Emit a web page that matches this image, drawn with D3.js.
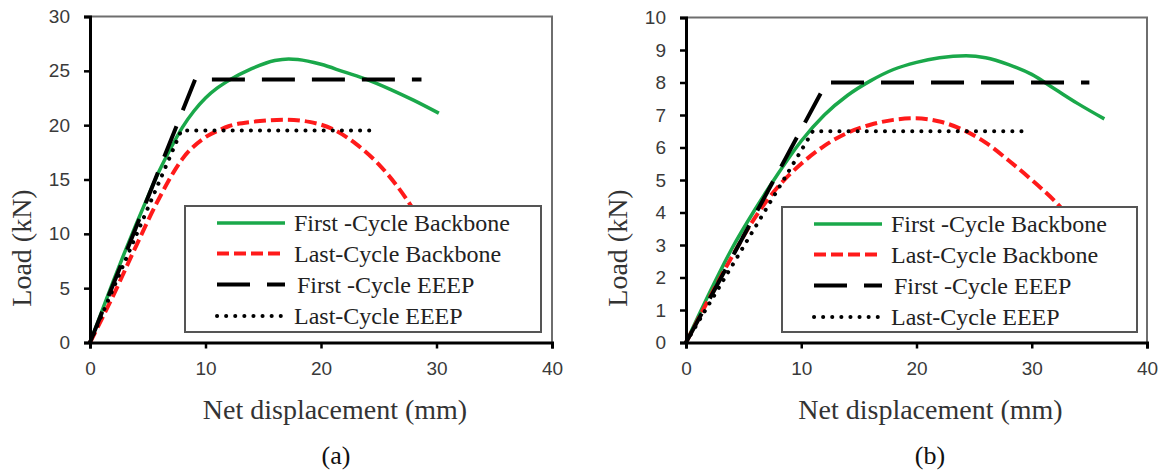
<!DOCTYPE html>
<html>
<head>
<meta charset="utf-8">
<script src="https://cdn.jsdelivr.net/npm/d3@7"></script>
<style>
  body { margin: 0; background: #fff; }
</style>
</head>
<body>
<div id="container"></div>
<script>
let w = 1159;
let h = 471;

// tick labels
let xTicks = [0, 10, 20, 30, 40];
let yTicksA = [0, 5, 10, 15, 20, 25, 30];
let yTicksB = [0, 1, 2, 3, 4, 5, 6, 7, 8, 9, 10];

let legendLabels = ["First -Cycle Backbone", "Last-Cycle Backbone", "First -Cycle EEEP", "Last-Cycle EEEP"];

// panel (a) [displacement mm, load kN]
let firstBackboneA = [[0, 0], [1, 2.8], [2, 5.6], [3, 8.3], [4, 10.9], [5, 13.4], [6, 15.8], [7, 17.9], [8, 19.8],
  [9, 21.3], [10, 22.5], [11, 23.4], [12, 24.1], [14, 25.2], [16, 25.95], [17.2, 26.1], [18, 26.05], [20, 25.6],
  [22, 24.9], [24, 24.2], [26, 23.3], [28, 22.3], [30.2, 21.1]];
let lastBackboneA = [[0, 0], [2, 4.3], [4, 8.9], [6, 13.3], [8, 16.9], [10, 18.9], [11.3, 19.6], [12, 19.9],
  [14, 20.3], [17, 20.5], [19, 20.3], [21.1, 19.6], [23, 18.3], [25, 16.4], [27.4, 13.2], [29, 10.5], [30, 8.7]];
let firstEEEPA = [[0, 0], [9.1, 24.2], [28.7, 24.2]];
let lastEEEPA = [[0, 0], [7.9, 19.5], [24.9, 19.5]];

// panel (b)
let firstBackboneB = [[0, 0], [2, 1.5], [4, 2.9], [6, 4.1], [8, 5.2], [10, 6.2], [12, 7.0], [14, 7.6], [16, 8.05],
  [18, 8.4], [20, 8.62], [22, 8.76], [24.3, 8.82], [26, 8.76], [28, 8.55], [30, 8.25], [32, 7.8], [34, 7.35], [36.3, 6.88]];
let lastBackboneB = [[0, 0], [2, 1.35], [4, 2.65], [6, 3.85], [8, 4.8], [10, 5.5], [12, 6.05], [14, 6.45], [16, 6.7],
  [18, 6.85], [19.9, 6.9], [22, 6.8], [24, 6.55], [26, 6.15], [28, 5.6], [30, 5.0], [32, 4.35], [34, 3.55], [36, 2.7]];
let firstEEEPB = [[0, 0], [12.2, 8.0], [35.0, 8.0]];
let lastEEEPB = [[0, 0], [11.0, 6.5], [29.6, 6.5]];

let viz = d3.select("#container")
  .append("svg")
  .attr("width", w)
  .attr("height", h);

let styles = [
  { color: "#1aa84a", width: 3.5, dash: null },
  { color: "#ff1a1a", width: 4, dash: "12,5" },
  { color: "#000", width: 4, dash: "33,17" },
  { color: "#000", width: 4, dash: "0.1,9", cap: "round" }
];

function drawPanel(cfg) {
  let g = viz.append("g");
  let xScale = d3.scaleLinear().domain([0, 40]).range([cfg.x0, cfg.x1]);
  let yScale = d3.scaleLinear().domain([0, cfg.yMax]).range([cfg.y0, cfg.y1]);

  // frame (top and right)
  g.append("path")
    .attr("d", "M" + cfg.x0 + "," + cfg.y1 + "H" + cfg.x1 + "V" + cfg.y0)
    .attr("fill", "none")
    .attr("stroke", "#6e6e6e")
    .attr("stroke-width", 2);

  // series
  let line = d3.line().x(d => xScale(d[0])).y(d => yScale(d[1]));
  cfg.series.forEach((s, i) => {
    let st = styles[i];
    g.append("path")
      .datum(s)
      .attr("d", line.curve(i < 2 ? d3.curveMonotoneX : d3.curveLinear))
      .attr("fill", "none")
      .attr("stroke", st.color)
      .attr("stroke-width", st.width)
      .attr("stroke-dasharray", st.dash)
      .attr("stroke-linecap", st.cap || "butt");
  });

  // axes
  let xAxis = d3.axisBottom(xScale).tickValues(xTicks).tickSize(6).tickPadding(13);
  let xAxisGroup = g.append("g").attr("transform", "translate(0," + cfg.y0 + ")").call(xAxis);
  let yAxis = d3.axisLeft(yScale).tickValues(cfg.yTicks).tickSize(6).tickPadding(14);
  let yAxisGroup = g.append("g").attr("transform", "translate(" + cfg.x0 + ",0)").call(yAxis);

  [xAxisGroup, yAxisGroup].forEach(a => {
    a.select(".domain").attr("stroke", "#000").attr("stroke-width", 3);
    a.selectAll(".tick line").attr("stroke", "#000").attr("stroke-width", 2.5);
    a.selectAll(".tick text")
      .attr("fill", "#3a3a3a")
      .attr("font-family", "'Liberation Sans', Arial, sans-serif")
      .attr("font-size", 19);
  });

  // legend
  let lg = g.append("g").attr("transform", "translate(" + cfg.legX + "," + cfg.legY + ")");
  lg.append("rect")
    .attr("width", cfg.legW).attr("height", cfg.legH)
    .attr("fill", "#fff").attr("stroke", "#555").attr("stroke-width", 2);
  let rows = [17, 47.5, 78.5, 110];
  legendLabels.forEach((lab, i) => {
    let st = styles[i];
    lg.append("line")
      .attr("x1", 32).attr("x2", 100)
      .attr("y1", rows[i]).attr("y2", rows[i])
      .attr("stroke", st.color)
      .attr("stroke-width", st.width)
      .attr("stroke-dasharray", st.dash)
      .attr("stroke-linecap", st.cap || "butt");
    lg.append("text")
      .attr("x", 109 + (i == 2 ? 3 : 0)).attr("y", rows[i] + 8)
      .attr("font-family", "'Liberation Serif', 'Times New Roman', serif")
      .attr("font-size", 24)
      .attr("fill", "#222")
      .text(lab);
  });

  // axis titles
  g.append("text")
    .attr("transform", "translate(" + cfg.yTitleX + "," + 248 + ") rotate(-90)")
    .attr("text-anchor", "middle")
    .attr("font-family", "'Liberation Serif', 'Times New Roman', serif")
    .attr("font-size", 28)
    .attr("fill", "#333")
    .text("Load (kN)");
  g.append("text")
    .attr("x", (cfg.x0 + cfg.x1) / 2 + 14).attr("y", 419)
    .attr("text-anchor", "middle")
    .attr("font-family", "'Liberation Serif', 'Times New Roman', serif")
    .attr("font-size", 28)
    .attr("fill", "#333")
    .text("Net displacement (mm)");
  g.append("text")
    .attr("x", cfg.capX).attr("y", 464)
    .attr("text-anchor", "middle")
    .attr("font-family", "'Liberation Serif', 'Times New Roman', serif")
    .attr("font-size", 26)
    .attr("fill", "#111")
    .text(cfg.caption);
}

drawPanel({
  x0: 90, x1: 552, y0: 342.5, y1: 16.5, yMax: 30, yTicks: yTicksA,
  series: [firstBackboneA, lastBackboneA, firstEEEPA, lastEEEPA],
  legX: 185, legY: 206, legW: 356, legH: 126,
  yTitleX: 31, capX: 336, caption: "(a)"
});

drawPanel({
  x0: 686, x1: 1147, y0: 342.5, y1: 17.5, yMax: 10, yTicks: yTicksB,
  series: [firstBackboneB, lastBackboneB, firstEEEPB, lastEEEPB],
  legX: 782, legY: 207, legW: 355, legH: 125,
  yTitleX: 627, capX: 930, caption: "(b)"
});
</script>
</body>
</html>
